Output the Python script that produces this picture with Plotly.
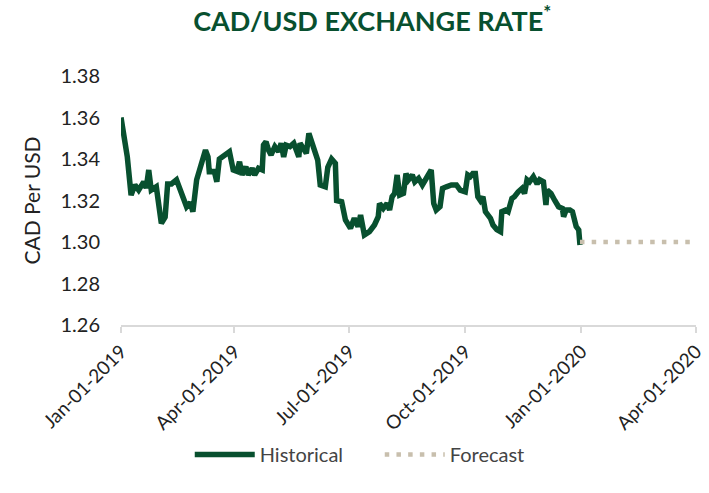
import plotly.graph_objects as go

hist_dates = [
    "2019-01-01", "2019-01-06", "2019-01-09", "2019-01-12", "2019-01-15", "2019-01-19",
    "2019-01-21", "2019-01-23", "2019-01-25", "2019-01-29", "2019-02-02", "2019-02-05",
    "2019-02-07", "2019-02-10", "2019-02-14", "2019-02-17", "2019-02-19", "2019-02-22",
    "2019-02-25", "2019-02-27", "2019-03-02", "2019-03-06", "2019-03-09", "2019-03-11",
    "2019-03-12", "2019-03-16", "2019-03-18", "2019-03-20", "2019-03-24", "2019-03-28",
    "2019-03-31", "2019-04-03", "2019-04-05", "2019-04-07", "2019-04-10", "2019-04-12",
    "2019-04-15", "2019-04-17", "2019-04-20", "2019-04-23", "2019-04-24", "2019-04-26",
    "2019-04-28", "2019-04-30", "2019-05-03", "2019-05-06", "2019-05-08", "2019-05-10",
    "2019-05-12", "2019-05-15", "2019-05-18", "2019-05-20", "2019-05-22", "2019-05-23",
    "2019-05-26", "2019-05-28", "2019-05-30", "2019-06-02", "2019-06-04", "2019-06-06",
    "2019-06-08", "2019-06-12", "2019-06-14", "2019-06-17", "2019-06-20", "2019-06-21",
    "2019-06-25", "2019-06-28", "2019-07-02", "2019-07-05", "2019-07-08", "2019-07-10",
    "2019-07-13", "2019-07-17", "2019-07-21", "2019-07-24", "2019-07-25", "2019-07-28",
    "2019-07-31", "2019-08-02", "2019-08-04", "2019-08-06", "2019-08-08", "2019-08-10",
    "2019-08-13", "2019-08-15", "2019-08-17", "2019-08-20", "2019-08-22", "2019-08-25",
    "2019-08-28", "2019-08-31", "2019-09-04", "2019-09-06", "2019-09-08", "2019-09-11",
    "2019-09-13", "2019-09-16", "2019-09-20", "2019-09-24", "2019-09-27", "2019-10-01",
    "2019-10-03", "2019-10-05", "2019-10-07", "2019-10-09", "2019-10-11", "2019-10-13",
    "2019-10-15", "2019-10-17", "2019-10-21", "2019-10-23", "2019-10-26", "2019-10-29",
    "2019-10-30", "2019-11-02", "2019-11-04", "2019-11-07", "2019-11-09", "2019-11-12",
    "2019-11-15", "2019-11-17", "2019-11-19", "2019-11-21", "2019-11-24", "2019-11-27",
    "2019-11-29", "2019-12-02", "2019-12-04", "2019-12-05", "2019-12-08", "2019-12-11",
    "2019-12-14", "2019-12-17", "2019-12-18", "2019-12-20", "2019-12-23", "2019-12-25",
    "2019-12-28", "2019-12-30", "2019-12-31",
]
hist_values = [
    1.360, 1.341, 1.3226, 1.3275, 1.325, 1.329,
    1.326, 1.3347, 1.325, 1.3266, 1.309, 1.312,
    1.328, 1.328, 1.330, 1.325, 1.3236, 1.317,
    1.319, 1.3146, 1.330, 1.3395, 1.3443, 1.341,
    1.3339, 1.334, 1.329, 1.340, 1.342, 1.3435,
    1.3347, 1.334, 1.3387, 1.3323, 1.3363, 1.3323,
    1.3355, 1.3323, 1.3355, 1.3347, 1.3467, 1.3483,
    1.3443, 1.342, 1.346, 1.3435, 1.3476, 1.341,
    1.3467, 1.346, 1.3476, 1.345, 1.341, 1.3476,
    1.345, 1.3427, 1.3524, 1.3476, 1.3427, 1.3395,
    1.3275, 1.3266, 1.336, 1.340, 1.3379, 1.320,
    1.3194, 1.3106, 1.3066, 1.3114, 1.3074, 1.313,
    1.3034, 1.305, 1.3082, 1.3122, 1.3186, 1.3162,
    1.3186, 1.3154, 1.3218, 1.3234, 1.3323, 1.3226,
    1.3234, 1.333, 1.330, 1.3323, 1.329, 1.3307,
    1.3275, 1.3307, 1.3347, 1.3186, 1.3154, 1.317,
    1.3258, 1.3266, 1.3275, 1.3275, 1.325, 1.3242,
    1.3323, 1.3315, 1.333, 1.333, 1.3218, 1.320,
    1.3218, 1.3146, 1.3114, 1.3082, 1.306, 1.305,
    1.3146, 1.3154, 1.3146, 1.321, 1.3218, 1.3242,
    1.3258, 1.3234, 1.330, 1.329, 1.3315, 1.328,
    1.330, 1.329, 1.3178, 1.325, 1.3234, 1.320,
    1.317, 1.3162, 1.3122, 1.3154, 1.3154, 1.3146,
    1.3074, 1.3058, 1.2986,
]

fc_dates = ["2019-12-31", "2020-01-31", "2020-02-29", "2020-03-31"]
fc_values = [1.30, 1.30, 1.30, 1.30]

tick_vals = ["2019-01-01", "2019-04-01", "2019-07-01", "2019-10-01", "2020-01-01", "2020-04-01"]
tick_text = ["Jan-01-2019", "Apr-01-2019", "Jul-01-2019", "Oct-01-2019", "Jan-01-2020", "Apr-01-2020"]

GREEN = "#08502f"
TAN = "#c8bfad"
FONT = "Lato, Open Sans, sans-serif"

fig = go.Figure()
fig.add_trace(go.Scatter(
    x=hist_dates, y=hist_values, mode="lines", name="Historical",
    line=dict(color=GREEN, width=5.5),
))
fig.add_trace(go.Scatter(
    x=fc_dates, y=fc_values, mode="lines", name="Forecast",
    line=dict(color=TAN, width=4.5, dash="4.5px,7.2px"),
))

fig.update_layout(
    width=709, height=493,
    paper_bgcolor="white", plot_bgcolor="white",
    margin=dict(l=121, r=13, t=76, b=168),
    font=dict(family=FONT, color="#222222", size=20),
    title=dict(
        text="<b>CAD/USD EXCHANGE RATE<sup>*</sup></b>",
        x=0.525, xanchor="center", y=0.957, yanchor="middle",
        font=dict(family=FONT, size=27, color=GREEN),
    ),
    showlegend=True,
    legend=dict(
        orientation="h", x=0.45, xanchor="center", y=-0.52, yanchor="middle",
        font=dict(family=FONT, size=20, color="#444444"),
        itemwidth=60, entrywidth=115, entrywidthmode="pixels",
    ),
    xaxis=dict(
        type="date", automargin=False,
        range=["2019-01-01", "2020-04-01"],
        tickvals=tick_vals, ticktext=tick_text,
        tickangle=-45,
        showgrid=False, zeroline=False,
        showline=True, linecolor="#d9d9d9", linewidth=2,
        ticks="outside", ticklen=6, tickcolor="#d9d9d9", tickwidth=2,
        tickfont=dict(family=FONT, size=19, color="#222222"),
    ),
    yaxis=dict(
        automargin=False,
        range=[1.26, 1.38], dtick=0.02, tickformat=".2f",
        showgrid=False, zeroline=False, showline=False,
        ticks="", ticklabelstandoff=20,
        title=dict(text="CAD Per USD", font=dict(family=FONT, size=21, color="#222222"), standoff=14),
        tickfont=dict(family=FONT, size=20, color="#222222"),
    ),
)

fig.write_html(
    "out.html",
    config={"displayModeBar": False},
    post_script="document.body.style.margin='0';",
)
